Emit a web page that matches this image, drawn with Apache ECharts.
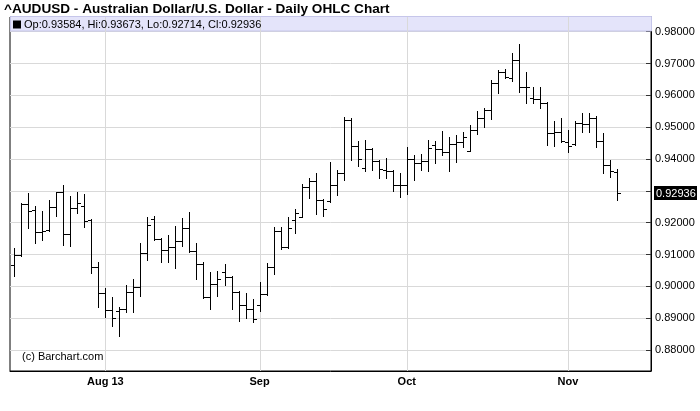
<!DOCTYPE html>
<html>
<head>
<meta charset="utf-8">
<script src="https://cdn.jsdelivr.net/npm/echarts@6/dist/echarts.min.js"></script>
<style>
  html, body { margin: 0; padding: 0; background: #fff; }
  #chart { width: 700px; height: 411px; }
</style>
</head>
<body>
<div id="chart"></div>
<script>
// trading days, 2013
const dates = [
  '07-15','07-16','07-17','07-18','07-19','07-22','07-23','07-24','07-25','07-26','07-29','07-30','07-31',
  '08-01','08-02','08-05','08-06','08-07','08-08','08-09','08-12','08-13','08-14','08-15','08-16',
  '08-19','08-20','08-21','08-22','08-23','08-26','08-27','08-28','08-29','08-30',
  '09-02','09-03','09-04','09-05','09-06','09-09','09-10','09-11','09-12','09-13',
  '09-16','09-17','09-18','09-19','09-20','09-23','09-24','09-25','09-26','09-27','09-30',
  '10-01','10-02','10-03','10-04','10-07','10-08','10-09','10-10','10-11','10-14','10-15','10-16',
  '10-17','10-18','10-21','10-22','10-23','10-24','10-25','10-28','10-29','10-30','10-31',
  '11-01','11-04','11-05','11-06','11-07','11-08','11-11','11-12'
];

const opens = [
  0.90670,0.90975,0.92577,0.92398,0.91698,0.91770,0.92483,0.92973,0.91644,0.92452,
  0.92524,0.92075,0.90598,0.89800,0.89257,0.89225,0.89298,0.89813,0.89970,0.91038,
  0.92116,0.91478,0.91132,0.91226,0.91415,0.91823,0.91101,0.90711,0.89675,0.90064,
  0.90451,0.90284,0.89822,0.89404,0.89279,0.89404,0.89759,0.90617,0.91729,0.91226,
  0.92084,0.92188,0.93121,0.93309,0.92713,0.92681,0.93184,0.93551,0.95226,0.94419,
  0.93727,0.94315,0.93938,0.93655,0.93624,0.93193,0.93193,0.94001,0.93866,0.93928,
  0.94431,0.94315,0.94230,0.94472,0.94535,0.94261,0.94921,0.95279,0.95550,0.96388,
  0.96743,0.96545,0.97102,0.96253,0.95917,0.95886,0.95751,0.94808,0.94840,0.94544,
  0.94463,0.95132,0.95100,0.95298,0.94566,0.93803,0.93584
];
const highs = [
  0.91195,0.92609,0.92923,0.92524,0.92367,0.92713,0.92973,0.93184,0.92838,0.92955,
  0.92901,0.92106,0.90774,0.89938,0.89675,0.89360,0.90033,0.90231,0.91352,0.92169,
  0.92219,0.91519,0.91622,0.91896,0.92138,0.92326,0.91352,0.90755,0.90460,0.90491,
  0.90702,0.90325,0.89863,0.89781,0.89602,0.90146,0.90724,0.91874,0.91874,0.92169,
  0.92430,0.93206,0.93394,0.93570,0.92744,0.93906,0.93655,0.95330,0.95273,0.94576,
  0.94598,0.94346,0.93969,0.94023,0.93655,0.93561,0.94387,0.94117,0.94158,0.94598,
  0.94557,0.94871,0.94701,0.94745,0.94849,0.95078,0.95518,0.95603,0.96492,0.96787,
  0.96838,0.97331,0.97614,0.96725,0.96253,0.96253,0.95791,0.95195,0.95279,0.94912,
  0.95179,0.95436,0.95436,0.95336,0.94827,0.93969,0.93673
];
const lows = [
  0.90325,0.90953,0.91823,0.91371,0.91456,0.91739,0.92219,0.91299,0.91277,0.92314,
  0.91874,0.90429,0.89360,0.89046,0.88763,0.88449,0.89184,0.89194,0.89706,0.90828,
  0.91456,0.90755,0.90755,0.90586,0.91267,0.91079,0.90240,0.89634,0.89298,0.89697,
  0.90042,0.89298,0.88921,0.88996,0.88889,0.89235,0.89728,0.90378,0.91164,0.91205,
  0.91666,0.92169,0.92785,0.92273,0.92210,0.92650,0.92870,0.93341,0.93969,0.93781,
  0.93633,0.93655,0.93394,0.93413,0.92995,0.92807,0.92901,0.93350,0.93665,0.93633,
  0.93884,0.94136,0.93633,0.93897,0.94387,0.94243,0.94796,0.94997,0.95267,0.96074,
  0.96545,0.96461,0.96096,0.95751,0.95751,0.95594,0.94441,0.94419,0.94525,0.94230,
  0.94441,0.94858,0.94858,0.94387,0.93551,0.93445,0.92714
];
const closes = [
  0.90975,0.92577,0.92367,0.91698,0.91748,0.92483,0.92973,0.91644,0.92452,0.92628,
  0.92043,0.90617,0.89800,0.89257,0.89005,0.89298,0.89832,0.89970,0.91038,0.91927,
  0.91478,0.91132,0.91226,0.91415,0.91823,0.91101,0.90711,0.89675,0.90064,0.90221,
  0.90284,0.89822,0.89404,0.89279,0.88964,0.89750,0.90617,0.91729,0.91226,0.91833,
  0.92295,0.93121,0.93309,0.92713,0.92439,0.93184,0.93551,0.95226,0.94419,0.93991,
  0.94315,0.93938,0.93677,0.93624,0.93174,0.93193,0.94001,0.93866,0.93928,0.94346,
  0.94315,0.94230,0.94472,0.94535,0.94682,0.94921,0.95279,0.95550,0.96388,0.96743,
  0.96567,0.97102,0.96253,0.96253,0.95886,0.95751,0.94808,0.94840,0.94576,0.94409,
  0.95141,0.95100,0.95298,0.94566,0.93803,0.93633,0.92936
];

// month gridlines / labels on the time axis
const monthStarts = ['08-01', '09-02', '10-01', '11-01'];
const monthLabels = ['Aug 13', 'Sep', 'Oct', 'Nov'];

const FONT = '"Liberation Sans", Arial, sans-serif';
const last = dates.length - 1;
const monthIdx = monthStarts.map(d => dates.indexOf(d));
const barData = dates.map((d, i) => [i, opens[i], highs[i], lows[i], closes[i]]);
const legendName = 'Op:' + opens[last].toFixed(5) + ', Hi:' + highs[last].toFixed(5) +
  ', Lo:' + lows[last].toFixed(5) + ', Cl:' + closes[last].toFixed(5);

const chart = echarts.init(document.getElementById('chart'), null, { renderer: 'canvas' });

// one OHLC bar: high-low stick, open tick left, close tick right
function renderBar(params, api) {
  const x = api.value(0);
  const o = api.coord([x, api.value(1)]);
  const h = api.coord([x, api.value(2)]);
  const l = api.coord([x, api.value(3)]);
  const c = api.coord([x, api.value(4)]);
  const cx = Math.round(o[0]) + 0.5;
  const t = 3.5;
  const style = { stroke: '#000', lineWidth: 1 };
  const yo = Math.round(o[1]) + 0.5;
  const yc = Math.round(c[1]) + 0.5;
  return {
    type: 'group',
    children: [
      { type: 'line', shape: { x1: cx, y1: Math.round(h[1]), x2: cx, y2: Math.round(l[1]) + 1 }, style: style },
      { type: 'line', shape: { x1: cx - t, y1: yo, x2: cx, y2: yo }, style: style },
      { type: 'line', shape: { x1: cx, y1: yc, x2: cx + t, y2: yc }, style: style }
    ]
  };
}

function renderMonthLine(params, api) {
  const cs = params.coordSys;
  const x = Math.round(api.coord([api.value(0), 0.9])[0]) + 0.5;
  return {
    type: 'line',
    shape: { x1: x, y1: cs.y, x2: x, y2: cs.y + cs.height },
    style: { stroke: '#d9d9d9', lineWidth: 1 }
  };
}

// last close tag on the price axis
function renderLastTag(params, api) {
  const cs = params.coordSys;
  const p = api.coord([api.value(0), api.value(1)]);
  const y = Math.round(p[1]);
  return {
    type: 'group',
    children: [
      { type: 'rect', shape: { x: cs.x + cs.width + 3, y: y - 7, width: 43, height: 14 }, style: { fill: '#000' } },
      {
        type: 'text',
        style: {
          x: cs.x + cs.width + 5, y: y + 0.5,
          text: api.value(1).toFixed(5),
          fill: '#fff', font: '11px ' + FONT,
          verticalAlign: 'middle', align: 'left'
        }
      }
    ]
  };
}

const option = {
  animation: false,
  backgroundColor: '#fff',
  title: [
    {
      text: '^AUDUSD - Australian Dollar/U.S. Dollar - Daily OHLC Chart',
      left: 4, top: 2, padding: 0,
      textStyle: { fontFamily: FONT, fontSize: 13.6, fontWeight: 'bold', color: '#000' }
    },
    {
      text: '(c) Barchart.com',
      left: 22, top: 351, padding: 0,
      textStyle: { fontFamily: FONT, fontSize: 11, fontWeight: 'normal', color: '#000' }
    }
  ],
  legend: {
    left: 13, top: 19, padding: 0,
    icon: 'rect', itemWidth: 8, itemHeight: 8, itemGap: 4,
    selectedMode: false,
    textStyle: { fontFamily: FONT, fontSize: 11, color: '#000', padding: [0, 0, 0, -2] },
    data: [legendName]
  },
  graphic: [
    {
      type: 'rect', z: 1, silent: true,
      shape: { x: 10.5, y: 16.5, width: 641, height: 14.5 },
      style: { fill: '#e4e4fa', stroke: '#c6c6ea', lineWidth: 1 }
    }
  ],
  grid: {
    left: 10, right: 49, top: 17, bottom: 40,
    show: true, borderColor: '#000', borderWidth: 1,
    containLabel: false, outerBoundsMode: 'none'
  },
  xAxis: {
    type: 'value',
    min: -0.6, max: 90.84,
    axisLine: { show: true, onZero: false, lineStyle: { color: '#000', width: 1 } },
    axisTick: { show: false },
    splitLine: { show: false },
    axisLabel: {
      customValues: monthIdx,
      margin: 5,
      fontFamily: FONT, fontSize: 11, fontWeight: 'bold', color: '#000',
      formatter: v => monthLabels[monthIdx.indexOf(Math.round(v))] || ''
    }
  },
  yAxis: {
    type: 'value',
    position: 'right',
    min: 0.8734, max: 0.9846,
    splitNumber: 10,
    scale: true,
    axisLine: { show: true, onZero: false, lineStyle: { color: '#000', width: 1 } },
    axisTick: { show: true, inside: true, length: 5, lineStyle: { color: '#333' } },
    splitLine: { show: true, lineStyle: { color: '#d9d9d9', width: 1 } },
    axisLabel: {
      showMinLabel: false, showMaxLabel: false,
      margin: 4,
      fontFamily: FONT, fontSize: 11, color: '#000',
      formatter: v => v.toFixed(5)
    }
  },
  series: [
    {
      name: 'months',
      type: 'custom',
      z: 2,
      silent: true,
      renderItem: renderMonthLine,
      encode: { x: 0 },
      data: monthIdx.map(i => [i])
    },
    {
      name: legendName,
      type: 'custom',
      z: 3,
      silent: true,
      itemStyle: { color: '#000' },
      renderItem: renderBar,
      encode: { x: 0, y: [1, 2, 3, 4] },
      data: barData
    },
    {
      name: 'last',
      type: 'custom',
      z: 10,
      silent: true,
      clip: false,
      renderItem: renderLastTag,
      encode: { x: 0, y: 1 },
      data: [[last, closes[last]]]
    }
  ]
};

chart.setOption(option);
</script>
</body>
</html>
